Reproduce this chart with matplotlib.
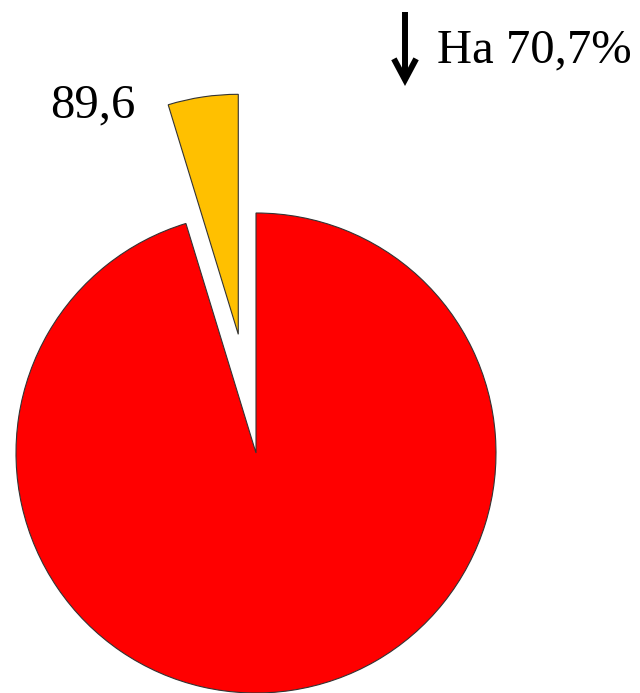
import matplotlib
matplotlib.use("Agg")
import matplotlib.pyplot as plt

values = [89.6, 1810]
colors = ["#FFC000", "#FF0000"]
explode = [0.5, 0]
slice_label = "89,6"
change_text = "На 70,7%"

W, H = 640, 693
fig = plt.figure(figsize=(W / 100, H / 100), dpi=100)
ax = fig.add_axes([0, 0, 1, 1])

# pie centre and radius in pixels
cx, cy, r = 256, 453, 240

ax.pie(values, colors=colors, explode=explode, startangle=90,
       counterclock=True,
       wedgeprops=dict(edgecolor="#333333", linewidth=0.8))
ax.set_aspect("auto")
ax.set_xlim(-cx / r, (W - cx) / r)
ax.set_ylim((cy - H) / r, cy / r)
ax.axis("off")


def fx(px):
    return px / W


def fy(py):
    return 1 - py / H


fig.text(fx(93), fy(117), slice_label, ha="center", va="baseline",
         fontsize=35, family="Liberation Serif")
fig.text(fx(437), fy(62), change_text, ha="left", va="baseline",
         fontsize=35, family="Liberation Serif")

# down arrow before the change text (open chevron head)
ax.annotate("", xy=(fx(405), fy(86)), xytext=(fx(405), fy(12)),
            xycoords="figure fraction", textcoords="figure fraction",
            arrowprops=dict(arrowstyle="->,head_width=0.4,head_length=0.75",
                            mutation_scale=20, lw=4.3, color="black",
                            shrinkA=0, shrinkB=0, joinstyle="miter",
                            capstyle="butt"))

fig.savefig("out.png", dpi=100, facecolor="white")
